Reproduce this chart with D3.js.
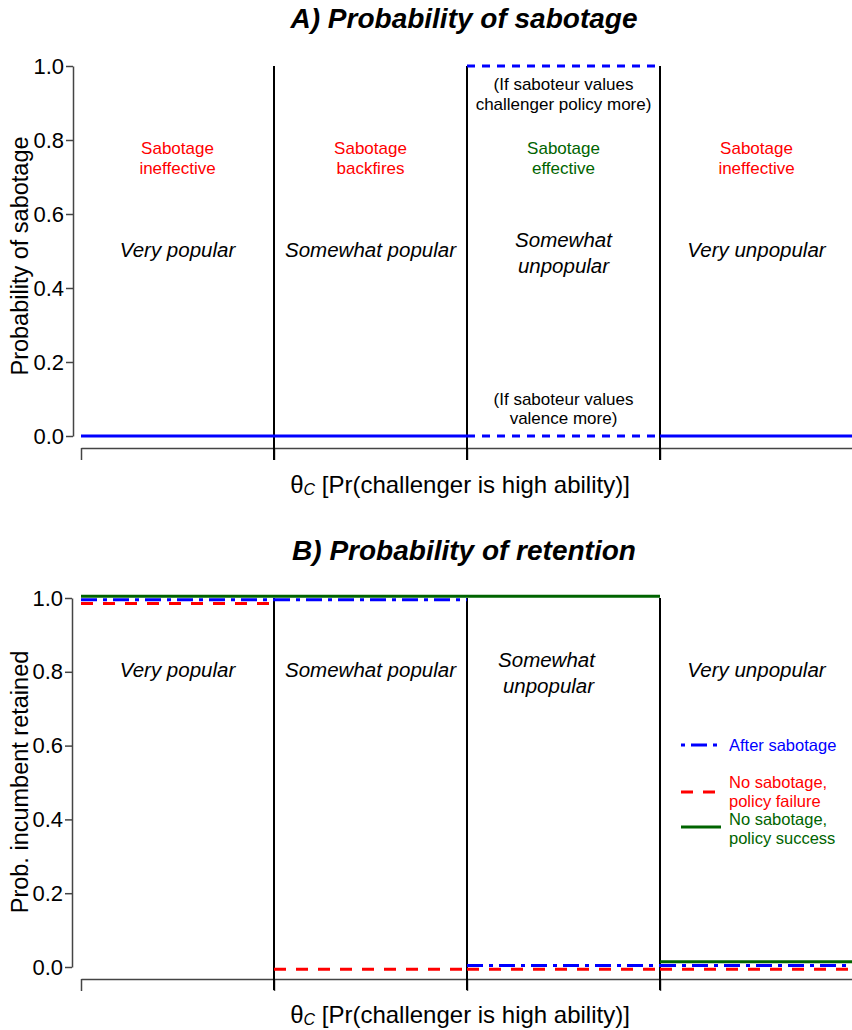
<!DOCTYPE html>
<html><head><meta charset="utf-8">
<script src="https://cdn.jsdelivr.net/npm/d3@7/dist/d3.min.js"></script>
<style>
body{margin:0;background:#fff;}
svg text{font-family:"Liberation Sans",Arial,sans-serif;}
</style></head>
<body>
<svg id="chart" width="852" height="1030"></svg>
<script>
// ---------- data ----------
const regions = ["Very popular", "Somewhat popular", "Somewhat unpopular", "Very unpopular"];
const regionEffect = ["Sabotage ineffective", "Sabotage backfires", "Sabotage effective", "Sabotage ineffective"];
const yTicks = [0, 0.2, 0.4, 0.6, 0.8, 1.0];
const xBoundaries = [0, 1, 2, 3, 4];
// Panel A: probability of sabotage per region
const sabotageSolid = [0, 0, null, 0];
const sabotageIfPolicy = [null, null, 1, null];
const sabotageIfValence = [null, null, 0, null];
// Panel B: probability of retention per region
const afterSabotage = [0.995, 0.995, 0.004, 0.004];
const noSabFailure = [0.985, -0.006, -0.006, -0.006];
const noSabSuccess = [1.005, 1.005, 1.005, 0.014];

// ---------- setup ----------
const svg = d3.select("#chart");
const BLUE = "#0000ff", RED = "#ff0000", GREEN = "#006400";
const x = d3.scaleLinear().domain([0, 4]).range([81, 853]);
const yA = d3.scaleLinear().domain([0, 1]).range([436, 66]);
const yB = d3.scaleLinear().domain([0, 1]).range([967, 598]);

function drawPanel(g, y, axisY, yAxisX, title, titleY, ylab, ylabY, xlabY) {
  g.append("text").attr("x", 464).attr("y", titleY).attr("text-anchor", "middle")
    .attr("dominant-baseline", "central")
    .style("font-size", "28px").style("font-weight", "bold").style("font-style", "italic")
    .text(title);
  const ya = g.append("g").attr("transform", `translate(${yAxisX},0)`)
    .call(d3.axisLeft(y).tickValues(yTicks).tickFormat(d3.format(".1f")).tickSize(7).tickSizeOuter(0));
  ya.select(".domain").attr("stroke", "#444").attr("stroke-width", 1.5);
  ya.selectAll(".tick line").attr("stroke", "#444").attr("stroke-width", 1.5);
  ya.selectAll(".tick text").style("font-size", "22px").attr("fill", "#000")
    .style("font-family", "Liberation Sans, Arial, sans-serif").attr("x", -9);
  const xa = g.append("g").attr("transform", `translate(0,${axisY})`)
    .call(d3.axisBottom(x).tickValues(xBoundaries).tickFormat("").tickSize(12).tickSizeOuter(0));
  xa.select(".domain").attr("stroke", "#444").attr("stroke-width", 1.5);
  xa.selectAll(".tick line").attr("stroke", "#444").attr("stroke-width", 1.5);
  g.append("text").attr("transform", `translate(20,${ylabY}) rotate(-90)`)
    .attr("text-anchor", "middle").attr("dominant-baseline", "central")
    .style("font-size", "23.5px").text(ylab);
  const xl = g.append("text").attr("x", 460).attr("y", xlabY).attr("text-anchor", "middle")
    .attr("dominant-baseline", "central").style("font-size", "24px");
  xl.append("tspan").text("θ");
  xl.append("tspan").attr("dy", 5).style("font-size", "16px").style("font-style", "italic").text("C");
  xl.append("tspan").attr("dy", -5).text(" [Pr(challenger is high ability)]");
}

function segments(g, y, values, color, dash, width) {
  values.forEach((v, i) => {
    if (v === null) return;
    g.append("line").attr("x1", x(i)).attr("x2", x(i + 1)).attr("y1", y(v)).attr("y2", y(v))
      .attr("stroke", color).attr("stroke-width", width).attr("stroke-dasharray", dash);
  });
}

function separators(g, y, top, bottom) {
  [1, 2, 3].forEach(b => {
    g.append("line").attr("x1", x(b)).attr("x2", x(b)).attr("y1", y(top)).attr("y2", bottom)
      .attr("stroke", "#000").attr("stroke-width", 2);
  });
}

function label(g, xv, yv, txt, size, color, italic) {
  g.append("text").attr("x", xv).attr("y", yv).attr("text-anchor", "middle")
    .attr("dominant-baseline", "central").style("font-size", size + "px")
    .style("font-style", italic ? "italic" : "normal").attr("fill", color).text(txt);
}

// ---------- Panel A ----------
const gA = svg.append("g");
drawPanel(gA, yA, 448, 73, "A) Probability of sabotage", 18, "Probability of sabotage", 256, 484);
separators(gA, yA, 1, 460);
segments(gA, yA, sabotageSolid, BLUE, null, 3);
segments(gA, yA, sabotageIfPolicy, BLUE, "8,7", 3);
segments(gA, yA, sabotageIfValence, BLUE, "8,7", 3);

regionEffect.forEach((t, i) => {
  const col = t === "Sabotage effective" ? GREEN : RED;
  const parts = t.split(" ");
  label(gA, x(i + 0.5), yA(0.777), parts[0], 17, col, false);
  label(gA, x(i + 0.5), yA(0.723), parts[1], 17, col, false);
});
regions.forEach((t, i) => {
  if (t === "Somewhat unpopular") {
    label(gA, x(i + 0.5), yA(0.530), "Somewhat", 20.5, "#000", true);
    label(gA, x(i + 0.5), yA(0.460), "unpopular", 20.5, "#000", true);
  } else {
    label(gA, x(i + 0.5), yA(0.503), t, 20.5, "#000", true);
  }
});
label(gA, x(2.5), yA(0.951), "(If saboteur values", 17, "#000", false);
label(gA, x(2.5), yA(0.897), "challenger policy more)", 17, "#000", false);
label(gA, x(2.5), yA(0.100), "(If saboteur values", 17, "#000", false);
label(gA, x(2.5), yA(0.046), "valence more)", 17, "#000", false);

// ---------- Panel B ----------
const gB = svg.append("g");
drawPanel(gB, yB, 979, 72, "B) Probability of retention", 550, "Prob. incumbent retained", 782, 1014);
separators(gB, yB, 1.0, 990);
segments(gB, yB, noSabSuccess, GREEN, null, 3);
segments(gB, yB, afterSabotage, BLUE, "16,6,4,6", 3);
segments(gB, yB, noSabFailure, RED, "12,10", 3);

regions.forEach((t, i) => {
  if (t === "Somewhat unpopular") {
    label(gB, x(i + 0.5) - 17, yB(0.833), "Somewhat", 20.5, "#000", true);
    label(gB, x(i + 0.5) - 15, yB(0.762), "unpopular", 20.5, "#000", true);
  } else {
    label(gB, x(i + 0.5), yB(0.805), t, 20.5, "#000", true);
  }
});

// legend
const legend = [
  {lines: ["After sabotage"], color: BLUE, dash: "4,6,16,6", y: 745},
  {lines: ["No sabotage,", "policy failure"], color: RED, dash: "12,10", y: 792},
  {lines: ["No sabotage,", "policy success"], color: GREEN, dash: null, y: 827}
];
const lg = gB.append("g");
legend.forEach(d => {
  lg.append("line").attr("x1", 681).attr("x2", 721).attr("y1", d.y).attr("y2", d.y)
    .attr("stroke", d.color).attr("stroke-width", 3).attr("stroke-dasharray", d.dash);
});
const legendText = [
  {t: legend[0].lines[0], c: BLUE, y: 745},
  {t: legend[1].lines[0], c: RED, y: 782},
  {t: legend[1].lines[1], c: RED, y: 801},
  {t: legend[2].lines[0], c: GREEN, y: 819},
  {t: legend[2].lines[1], c: GREEN, y: 838}
];
legendText.forEach(d => {
  lg.append("text").attr("x", 729).attr("y", d.y).attr("dominant-baseline", "central")
    .style("font-size", "16.5px").attr("fill", d.c).text(d.t);
});
</script>
</body></html>
